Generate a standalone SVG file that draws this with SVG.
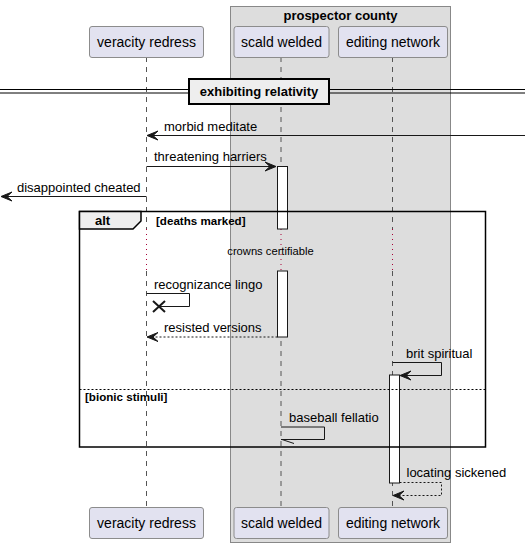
<svg xmlns="http://www.w3.org/2000/svg" width="525" height="548" viewBox="0 0 525 548">
  <style>
    text { font-family: "Liberation Sans", Arial, sans-serif; fill: #000; }
    .pname { font-size: 14px; text-anchor: middle; }
    .msg { font-size: 13px; }
    .bold { font-weight: bold; }
    .guard { font-size: 11.6px; font-weight: bold; }
    .part { fill: #E2E2F0; stroke: #8C8C8C; stroke-width: 1; }
    .life { stroke: #555; stroke-width: 1; stroke-dasharray: 5 5; fill: none; }
    .delay { stroke: #A80036; stroke-width: 1; stroke-dasharray: 1 4; fill: none; }
    .line { stroke: #181818; stroke-width: 1; fill: none; }
    .dash { stroke: #181818; stroke-width: 1; fill: none; stroke-dasharray: 2 2; }
    .act { fill: #FFFFFF; stroke: #181818; stroke-width: 1; }
    .head { fill: #181818; stroke: #181818; stroke-width: 1; }
  </style>
  <defs>
    <!-- open arrowhead pointing left, tip at origin -->
    <polygon id="hl" points="0,0 11,-4.5 6,0 11,4.5"/>
    <polygon id="hr" points="0,0 -11,-4.5 -6,0 -11,4.5"/>
  </defs>

  <!-- participant box -->
  <g id="box-prospector-county">
    <rect x="230.5" y="6.5" width="220" height="536" fill="#DDDDDD" stroke="#888888" stroke-width="1"/>
    <text x="340.5" y="19.5" class="msg bold" text-anchor="middle">prospector county</text>
  </g>

  <!-- lifelines -->
  <g id="lifelines">
    <line class="life" x1="146.5" y1="57" x2="146.5" y2="229"/>
    <line class="delay" x1="146.5" y1="229" x2="146.5" y2="271"/>
    <line class="life" x1="146.5" y1="271" x2="146.5" y2="507"/>
    <line class="life" x1="281" y1="57" x2="281" y2="229"/>
    <line class="delay" x1="281" y1="229" x2="281" y2="271"/>
    <line class="life" x1="281" y1="271" x2="281" y2="507"/>
    <line class="life" x1="392.5" y1="57" x2="392.5" y2="229"/>
    <line class="delay" x1="392.5" y1="229" x2="392.5" y2="271"/>
    <line class="life" x1="392.5" y1="271" x2="392.5" y2="507"/>
  </g>

  <!-- participants (top and bottom) -->
  <g id="veracity-redress">
    <rect class="part" x="89.5" y="26.5" width="114" height="31" rx="2.5"/>
    <text class="pname" x="146.5" y="47">veracity redress</text>
    <rect class="part" x="89.5" y="507.5" width="114" height="31" rx="2.5"/>
    <text class="pname" x="146.5" y="528">veracity redress</text>
  </g>
  <g id="scald-welded">
    <rect class="part" x="234" y="26.5" width="95" height="31" rx="2.5"/>
    <text class="pname" x="281.5" y="47">scald welded</text>
    <rect class="part" x="234" y="507.5" width="95" height="31" rx="2.5"/>
    <text class="pname" x="281.5" y="528">scald welded</text>
  </g>
  <g id="editing-network">
    <rect class="part" x="338.5" y="26.5" width="109" height="31" rx="2.5"/>
    <text class="pname" x="393" y="47">editing network</text>
    <rect class="part" x="338.5" y="507.5" width="109" height="31" rx="2.5"/>
    <text class="pname" x="393" y="528">editing network</text>
  </g>

  <!-- divider -->
  <g id="divider-exhibiting-relativity">
    <line x1="0" y1="89.5" x2="525" y2="89.5" stroke="#000" stroke-width="1"/>
    <line x1="0" y1="93" x2="525" y2="93" stroke="#000" stroke-width="1"/>
    <rect x="189" y="79" width="140" height="25" fill="#EEEEEE" stroke="#000" stroke-width="2"/>
    <text x="259" y="96" class="msg bold" text-anchor="middle">exhibiting relativity</text>
  </g>

  <!-- activations -->
  <g id="activations">
    <rect class="act" x="277.5" y="166.5" width="10" height="62.5"/>
    <rect class="act" x="277.5" y="271" width="10" height="66"/>
    <rect class="act" x="389.5" y="375" width="10" height="108"/>
  </g>

  <!-- alt fragment -->
  <g id="alt-fragment">
    <rect x="79.5" y="211.5" width="406" height="235.5" fill="none" stroke="#000" stroke-width="1.5"/>
    <polygon points="79.5,211.5 141,211.5 141,221 133,229 79.5,229" fill="#EEEEEE" stroke="#000" stroke-width="1.5"/>
    <text x="95" y="225" class="msg bold">alt</text>
    <text x="156" y="224.5" class="guard">[deaths marked]</text>
    <line x1="79.5" y1="389.5" x2="485.5" y2="389.5" stroke="#000" stroke-width="1" stroke-dasharray="2 2"/>
    <text x="85" y="401" class="guard">[bionic stimuli]</text>
  </g>

  <!-- delay label -->
  <g id="delay-crowns-certifiable">
    <text x="270.5" y="255" font-size="11.2" text-anchor="middle">crowns certifiable</text>
  </g>

  <!-- connectors -->
  <g id="connectors">
    <!-- morbid meditate -->
    <line class="line" x1="525" y1="135.5" x2="148" y2="135.5"/>
    <use href="#hl" class="head" x="147" y="135.5"/>
    <text class="msg" x="164" y="131">morbid meditate</text>

    <!-- threatening harriers -->
    <line class="line" x1="146.5" y1="166.5" x2="275" y2="166.5"/>
    <use href="#hr" class="head" x="276" y="166.5"/>
    <text class="msg" x="154" y="161">threatening harriers</text>

    <!-- disappointed cheated -->
    <line class="line" x1="146.5" y1="196.5" x2="2" y2="196.5"/>
    <use href="#hl" class="head" x="1" y="196.5"/>
    <text class="msg" x="17" y="191.5">disappointed cheated</text>

    <!-- recognizance lingo (self, destroyed) -->
    <polyline class="line" points="146.5,293.5 189.5,293.5 189.5,306.5 160,306.5"/>
    <path d="M153,301 L165,312 M165,301 L153,312" stroke="#181818" stroke-width="2" fill="none"/>
    <text class="msg" x="154" y="289">recognizance lingo</text>

    <!-- resisted versions (return) -->
    <line class="dash" x1="277.5" y1="337" x2="148" y2="337"/>
    <use href="#hl" class="head" x="147" y="337"/>
    <text class="msg" x="164" y="332">resisted versions</text>

    <!-- brit spiritual (self) -->
    <polyline class="line" points="392.5,362.5 441.5,362.5 441.5,375.5 401,375.5"/>
    <use href="#hl" class="head" x="400" y="375.5"/>
    <text class="msg" x="406" y="358">brit spiritual</text>

    <!-- baseball fellatio (self, half arrow) -->
    <polyline class="line" points="281,427 324.5,427 324.5,439.5 281,439.5"/>
    <line class="line" x1="282" y1="439.5" x2="294" y2="443.5"/>
    <text class="msg" x="289" y="422">baseball fellatio</text>

    <!-- locating sickened (self return) -->
    <polyline class="dash" points="399.5,482.5 441.5,482.5 441.5,495.5 394,495.5"/>
    <use href="#hl" class="head" x="393" y="495.5"/>
    <text class="msg" x="406.5" y="477">locating sickened</text>
  </g>
</svg>
